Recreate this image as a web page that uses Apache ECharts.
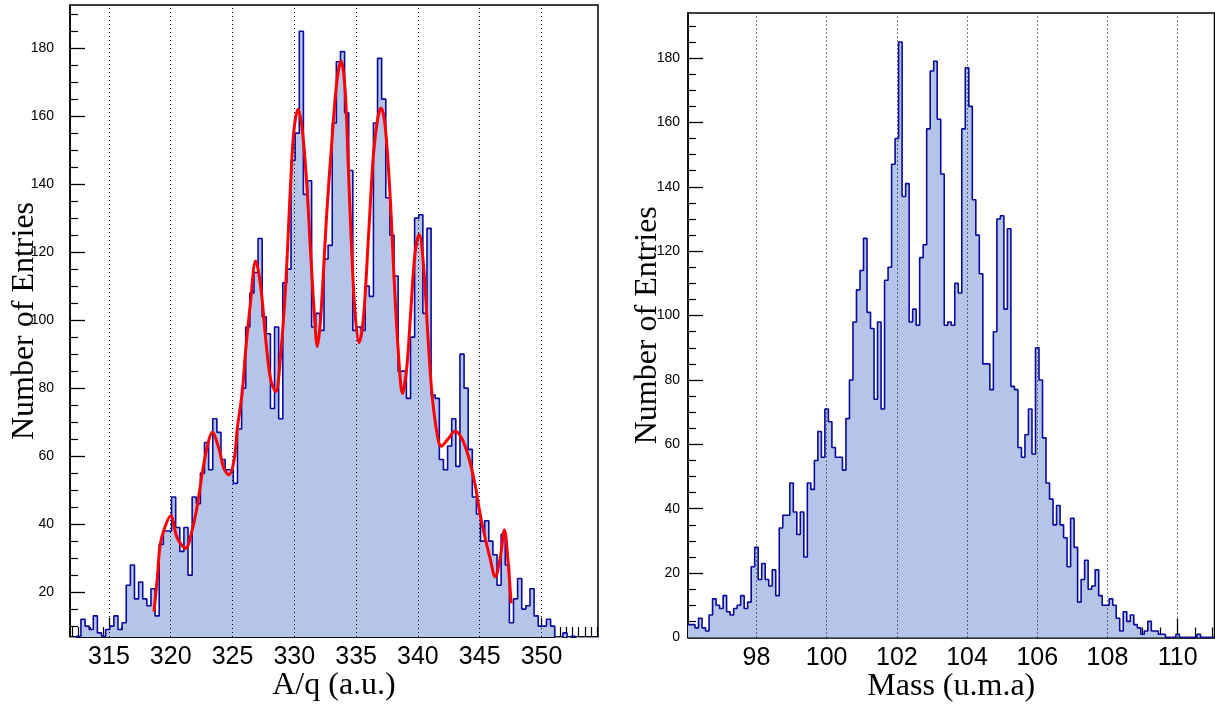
<!DOCTYPE html>
<html>
<head>
<meta charset="utf-8">
<script src="https://cdn.jsdelivr.net/npm/echarts@6/dist/echarts.min.js"></script>
<style>
html,body{margin:0;padding:0;background:#fff;}
#c{width:1215px;height:708px;}
</style>
</head>
<body>
<div id="c"></div>
<script>
// ---- data (same event counts shown in both panels) ----
const counts = [
  4,4,3,6,3,2,7,12,10,9,
  13,8,7,9,10,13,9,11,22,28,
  18,23,18,16,21,13,34,38,38,48,
  39,32,39,25,48,46,55,64,56,71,
  67,59,56,56,52,68,80,98,108,114,
  124,101,96,74,98,71,111,115,147,155,
  185,137,141,98,102,97,118,122,158,176,
  179,161,144,97,98,97,110,107,158,177,
  165,136,125,113,85,85,77,95,130,131,
  102,127,78,77,59,56,63,71,57,90,
  80,62,48,43,35,41,35,31,22,37,
  28,11,18,24,15,16,21,13,10,10,
  12,10,6,2,8,5,7,4,3,1,
  2,5,2,2,1,1,0,0,0,1,
  0,0,0,0,0,1,0,0,0,0
];
const aqBinStart = 310.4;
const aqBinWidth = 1/3;
const massBinStart = 96.05;
const massBinWidth = 0.1;

// red fit curve on the A/q spectrum: [A/q, entries]
const fitPoints = [
  [318.64,14.3],[318.91,23.9],[319.13,33.5],[319.45,38.3],[319.99,42.5],[320.53,35.9],
  [321.2,32.9],[321.74,38.3],[322.15,45.5],[322.55,55],[322.96,62.9],[323.36,67],
  [323.9,62.2],[324.31,56.3],[324.71,54.5],[325.12,58.7],[325.39,68.2],[325.79,79],
  [326.06,91],[326.46,105.4],[326.87,117.4],[327.27,110.2],[327.68,94.6],[328.08,82.6],
  [328.49,79],[328.89,89.8],[329.3,110.2],[329.7,140.2],[329.97,155.8],[330.3,162],
  [330.65,155.8],[331.0,140.2],[331.32,119.8],[331.64,100.6],[331.86,92.2],[332.13,100.6],
  [332.63,131.8],[333.03,152.2],[333.44,170.2],[333.79,176.2],[334.11,167.8],[334.38,143.8],
  [334.65,119.8],[334.92,101.8],[335.24,93.4],[335.59,100.6],[336.0,124.6],[336.4,148.6],
  [336.75,159.4],[337.02,162.4],[337.35,157],[337.75,136.6],[338.1,110.2],[338.43,89.8],
  [338.75,78.4],[339.1,86.2],[339.45,104.2],[339.77,119.8],[340.1,125.2],[340.45,116.2],
  [340.8,95.8],[341.12,79],[341.53,67],[341.88,62.9],[342.47,65.2],[343.01,67.3],
  [343.55,65.2],[344.09,59.9],[344.63,51.5],[345.03,43],[345.44,35.9],[345.84,29.9],
  [346.25,24.5],[346.65,29.9],[347.0,38.3],[347.27,29.9],[347.54,16.7]
];

const aqTickLabels = [315,320,325,330,335,340,345,350];
const massTickLabels = [98,100,102,104,106,108,110];
const entriesTicksLeft = [20,40,60,80,100,120,140,160,180];
const entriesTicksRight = [0,20,40,60,80,100,120,140,160,180];

// ---- derived structures ----
function histLine(start, width) {
  const pts = counts.map((v, i) => [start + i * width, v]);
  pts.push([start + counts.length * width, counts[counts.length - 1]]);
  return pts;
}
function minorTicks(from, to, step, majors) {
  const out = [];
  for (let v = from; v <= to + 1e-9; v += step) {
    const r = Math.round(v * 1000) / 1000;
    if (!majors.includes(r)) out.push(r);
  }
  return out;
}
const aqMinor = minorTicks(312, 354.5, 0.5, aqTickLabels);
const massMinor = minorTicks(96.5, 111, 0.5, massTickLabels);
const leftYMinor = minorTicks(10, 190, 5, entriesTicksLeft);
const rightYMinor = minorTicks(5, 190, 5, entriesTicksRight);

const FILL = '#b5c5ea';
const EDGE = '#0a0a9c';
const sans = 'Liberation Sans, Arial, Helvetica, sans-serif';
const serif = 'Liberation Serif, Times New Roman, serif';

function mainX(grid, min, max, ticks, name) {
  return {
    gridIndex: grid, type: 'value', min: min, max: max, position: 'bottom',
    axisLine: {show: true, onZero: false, lineStyle: {color: '#000', width: 1.5}},
    axisTick: {show: true, inside: true, length: 19, customValues: ticks, lineStyle: {color: '#000', width: 1.3}},
    axisLabel: {show: true, customValues: ticks, margin: 8, fontSize: 25, fontFamily: sans, color: '#000'},
    splitLine: {show: false},
    name: name, nameLocation: 'middle', nameGap: 33, nameMoveOverlap: false,
    nameTextStyle: {fontFamily: serif, fontSize: 32, color: '#000'}
  };
}
function minorX(grid, min, max, ticks) {
  return {
    gridIndex: grid, type: 'value', min: min, max: max, position: 'bottom',
    axisLine: {show: false, onZero: false},
    axisTick: {show: true, inside: true, length: 10, customValues: ticks, lineStyle: {color: '#000', width: 1.2}},
    axisLabel: {show: false}, splitLine: {show: false}
  };
}
function mainY(grid, min, max, ticks, margin, gap) {
  return {
    gridIndex: grid, type: 'value', min: min, max: max, position: 'left',
    axisLine: {show: true, onZero: false, lineStyle: {color: '#000', width: 1.5}},
    axisTick: {show: true, inside: true, length: 15, customValues: ticks, lineStyle: {color: '#000', width: 1.3}},
    axisLabel: {show: true, customValues: ticks, margin: margin, fontSize: 14, fontFamily: sans, color: '#000'},
    splitLine: {show: false},
    name: 'Number of Entries', nameLocation: 'middle', nameGap: gap, nameMoveOverlap: false,
    nameTextStyle: {fontFamily: serif, fontSize: 32, color: '#000'}
  };
}
function minorY(grid, min, max, ticks) {
  return {
    gridIndex: grid, type: 'value', min: min, max: max, position: 'left',
    axisLine: {show: false, onZero: false},
    axisTick: {show: true, inside: true, length: 8, customValues: ticks, lineStyle: {color: '#000', width: 1.2}},
    axisLabel: {show: false}, splitLine: {show: false}
  };
}
function gridLines(values) {
  return {
    silent: true, symbol: ['none', 'none'], label: {show: false},
    lineStyle: {type: [1, 3], color: '#000', width: 1},
    emphasis: {disabled: true},
    animation: false,
    data: values.map(v => ({xAxis: v}))
  };
}

const chart = echarts.init(document.getElementById('c'), null, {renderer: 'canvas'});
chart.setOption({
  animation: false,
  backgroundColor: '#fff',
  grid: [
    {left: 70, top: 5, width: 528, height: 632, show: true, borderColor: '#000', borderWidth: 1.5,
     backgroundColor: 'transparent', containLabel: false, outerBoundsMode: 'none'},
    {left: 688, top: 13, width: 526.5, height: 624.5, show: true, borderColor: '#000', borderWidth: 1.5,
     backgroundColor: 'transparent', containLabel: false, outerBoundsMode: 'none'}
  ],
  xAxis: [
    mainX(0, 311.85, 354.57, aqTickLabels, 'A/q (a.u.)'),
    minorX(0, 311.85, 354.57, aqMinor),
    mainX(1, 96.05, 111.05, massTickLabels, 'Mass (u.m.a)'),
    minorX(1, 96.05, 111.05, massMinor)
  ],
  yAxis: [
    mainY(0, 6.8, 192.7, entriesTicksLeft, 16, 29),
    minorY(0, 6.8, 192.7, leftYMinor),
    mainY(1, 0, 194, entriesTicksRight, 8, 24),
    minorY(1, 0, 194, rightYMinor)
  ],
  series: [
    {
      type: 'line', xAxisIndex: 0, yAxisIndex: 0, z: 2,
      data: histLine(aqBinStart, aqBinWidth), step: 'end', symbol: 'none', clip: true,
      lineStyle: {color: EDGE, width: 1.6},
      areaStyle: {color: FILL, opacity: 1, origin: 'start'},
      markLine: gridLines(aqTickLabels)
    },
    {
      type: 'line', xAxisIndex: 0, yAxisIndex: 0, z: 5,
      data: fitPoints, smooth: 0.35, symbol: 'none', clip: true,
      lineStyle: {color: '#ff0000', width: 3}
    },
    {
      type: 'line', xAxisIndex: 2, yAxisIndex: 2, z: 2,
      data: histLine(massBinStart, massBinWidth), step: 'end', symbol: 'none', clip: true,
      lineStyle: {color: EDGE, width: 1.6},
      areaStyle: {color: FILL, opacity: 1, origin: 'start'},
      markLine: gridLines(massTickLabels)
    }
  ]
});
</script>
</body>
</html>
